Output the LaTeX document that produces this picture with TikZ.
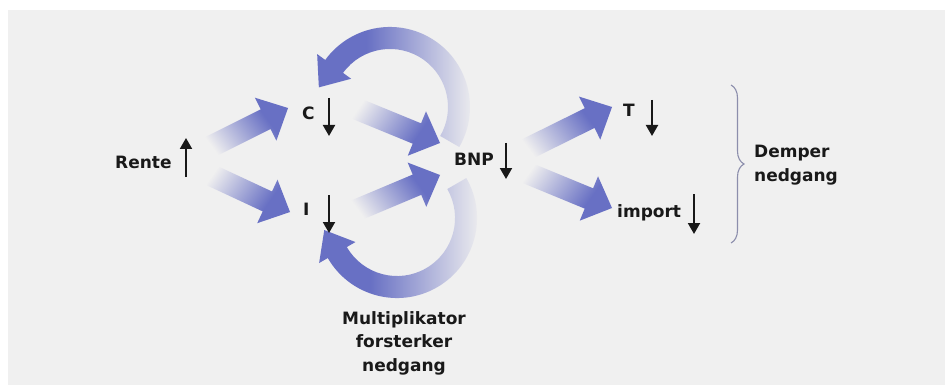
\documentclass[tikz,border=0pt]{standalone}
\usepackage{fontspec}
\newfontfamily\lblfont{DejaVu Sans}
\usetikzlibrary{calc,arrows.meta,decorations.pathreplacing,fadings}
\definecolor{bgc}{RGB}{240,240,240}
\definecolor{arrowblue}{RGB}{104,112,196}
\definecolor{txt}{RGB}{25,25,25}
\definecolor{bracec}{RGB}{140,142,172}
\pgfdeclareverticalshading{straightfadeshade}{100bp}{color(0bp)=(black); color(30bp)=(black); color(66bp)=(white); color(100bp)=(white)}
\pgfdeclarefading{straightfade}{\pgfuseshading{straightfadeshade}}
\pgfdeclareverticalshading{arcfadeshade}{100bp}{color(0bp)=(black); color(27bp)=(black); color(60bp)=(white); color(100bp)=(white)}
\pgfdeclarefading{arcfade}{\pgfuseshading{arcfadeshade}}
\newcommand\fadearrow[3]{%
  \fill[arrowblue, path fading=straightfade, fading angle=#3]
    ($(#1)!11pt!90:(#2)$) -- ($(#2)!25pt!(#1)!11pt!90:(#2)$) --
    ($(#2)!25pt!(#1)!24pt!90:(#2)$) -- (#2) --
    ($(#2)!25pt!(#1)!24pt!-90:(#2)$) -- ($(#2)!25pt!(#1)!11pt!-90:(#2)$) --
    ($(#1)!11pt!-90:(#2)$) -- cycle;}
\begin{document}
\begin{tikzpicture}[x=1pt,y=1pt,
  lbl/.style={font=\lblfont\bfseries\fontsize{17}{23.5}\selectfont, text=txt, inner sep=0pt},
  updown/.style={line width=2pt, draw=txt, -{Triangle[width=12pt,length=11pt]}},
  bracestyle/.style={draw=bracec, line width=1.1pt, decorate, decoration={brace, amplitude=13pt, aspect=0.5}}]
\useasboundingbox (0,0) rectangle (945,-385);
\fill[white] (0,0) rectangle (945,-385);
\fill[bgc] (8,-10) rectangle (945,-385);

% curved multiplier arrows
\coordinate (ct) at (390,-107);
\coordinate (tipT) at (318.9,-87.4);
\fill[arrowblue, path fading=arcfade, fading angle=90]
  ($(ct)+(-30:80)$) arc[start angle=-30, end angle=144, radius=80]
  -- ($(ct)+(144:90)$) -- (tipT) -- ($(ct)+(144:48)$) -- ($(ct)+(144:58)$)
  arc[start angle=144, end angle=-30, radius=58] -- cycle;
\coordinate (cb) at (397,-218);
\coordinate (tipB) at (324.2,-230);
\fill[arrowblue, path fading=arcfade, fading angle=90]
  ($(cb)+(30:80)$) arc[start angle=30, end angle=-150, radius=80]
  -- ($(cb)+(-150:90)$) -- (tipB) -- ($(cb)+(-150:48)$) -- ($(cb)+(-150:58)$)
  arc[start angle=-150, end angle=30, radius=58] -- cycle;

% straight arrows
\coordinate (a1s) at (200,-152); \coordinate (a1e) at (288,-108);
\coordinate (a2s) at (200,-170); \coordinate (a2e) at (290,-212);
\coordinate (a3s) at (345,-104); \coordinate (a3e) at (440,-143);
\coordinate (a4s) at (345,-215); \coordinate (a4e) at (440,-175);
\coordinate (a5s) at (515,-155); \coordinate (a5e) at (612,-107);
\coordinate (a6s) at (515,-168); \coordinate (a6e) at (612,-208);
\fadearrow{a1s}{a1e}{-63}
\fadearrow{a2s}{a2e}{-115}
\fadearrow{a3s}{a3e}{-113}
\fadearrow{a4s}{a4e}{-65}
\fadearrow{a5s}{a5e}{-63}
\fadearrow{a6s}{a6e}{-114}

% labels
\node[lbl, anchor=base west] (rente) at (115,-168) {Rente};
\node[lbl, anchor=base west] (c) at (302,-120) {C};
\node[lbl, anchor=base west] (i) at (303,-215) {I};
\node[lbl, anchor=base west] (bnp) at (454,-165) {BNP};
\node[lbl, anchor=base west] (t) at (623,-117) {T};
\node[lbl, anchor=base west] (imp) at (617,-217) {import};
\node[lbl, align=left] (demper) at (796,-165) {Demper\\nedgang};
\node[lbl, align=center] (multi) at (404,-343) {Multiplikator\\forsterker\\nedgang};

% small up/down arrows
\coordinate (r1) at (186,-177); \coordinate (r2) at (186,-138);
\coordinate (c1) at (329,-98);  \coordinate (c2) at (329,-136);
\coordinate (i1) at (329,-195); \coordinate (i2) at (329,-233);
\coordinate (b1) at (506,-143); \coordinate (b2) at (506,-179);
\coordinate (t1) at (652,-100); \coordinate (t2) at (652,-136);
\coordinate (m1) at (694,-194); \coordinate (m2) at (694,-234);
\draw[updown] (r1) -- (r2);
\draw[updown] (c1) -- (c2);
\draw[updown] (i1) -- (i2);
\draw[updown] (b1) -- (b2);
\draw[updown] (t1) -- (t2);
\draw[updown] (m1) -- (m2);

% brace
\coordinate (brtop) at (731,-85);
\coordinate (brbot) at (731,-243);
\draw[bracestyle] (brtop) -- (brbot);
\end{tikzpicture}
\end{document}
